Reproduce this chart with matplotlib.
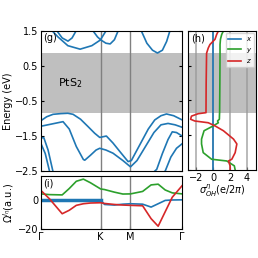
import matplotlib
matplotlib.use("Agg")
import matplotlib.pyplot as plt

# high-symmetry path (fraction of the total path length)
kpts = [0.0, 0.4226, 0.634, 1.0]
klabels = ["Γ", "K", "M", "Γ"]
gap_lo, gap_hi = -0.85, 0.86

# band structure (k, E)
bands = [
    ([0.06, 0.113, 0.15, 0.191, 0.22, 0.248, 0.30],
     [1.85, 1.5, 1.3, 1.21, 1.3, 1.5, 1.85]),
    ([0.05, 0.08, 0.12, 0.19, 0.277, 0.36, 0.42, 0.46, 0.49],
     [1.65, 1.5, 1.33, 1.08, 0.98, 1.08, 1.24, 1.5, 1.7]),
    ([0.34, 0.369, 0.40, 0.425, 0.46, 0.49, 0.52, 0.546, 0.57],
     [1.7, 1.5, 1.33, 1.24, 1.15, 1.13, 1.25, 1.5, 1.7]),
    ([0.68, 0.711, 0.75, 0.79, 0.825, 0.86, 0.89, 0.913, 0.94],
     [1.8, 1.5, 1.15, 0.95, 0.87, 0.95, 1.2, 1.5, 1.8]),
    ([0, 0.04, 0.085, 0.14, 0.19, 0.227, 0.28, 0.333, 0.38, 0.416, 0.44, 0.463,
      0.51, 0.56, 0.617, 0.64, 0.70, 0.76, 0.806, 0.85, 0.889, 0.94, 1.0],
     [-1.06, -0.95, -0.88, -0.86, -0.85, -0.88, -1.02, -1.23, -1.42, -1.54, -1.52, -1.5,
      -1.7, -1.95, -2.23, -2.2, -1.75, -1.3, -1.04, -0.92, -0.87, -0.92, -1.04]),
    ([0, 0.06, 0.12, 0.156, 0.2, 0.25, 0.3, 0.31, 0.35, 0.39, 0.416, 0.46, 0.51,
      0.58, 0.634, 0.68, 0.74, 0.8, 0.85, 0.9, 0.95, 1.0],
     [-1.22, -1.17, -1.12, -1.09, -1.3, -1.8, -2.17, -2.19, -2.05, -1.9, -1.85, -1.9, -1.99,
      -2.2, -2.38, -2.2, -1.8, -1.4, -1.18, -1.14, -1.18, -1.25]),
    ([0, 0.02, 0.05, 0.085, 0.11], [-1.55, -1.55, -1.9, -2.52, -2.9]),
    ([0.78, 0.82, 0.86, 0.9, 0.93, 0.96, 1.0], [-2.6, -2.45, -2.0, -1.6, -1.38, -1.4, -1.5]),
    ([0, 0.03, 0.06], [-1.72, -2.0, -2.5]),
    ([0.85, 0.88, 0.92, 0.96, 1.0], [-2.6, -2.5, -2.1, -1.85, -1.72]),
]

# Berry curvature
bk = [0, 0.06, 0.15, 0.2, 0.25, 0.3, 0.35, 0.4226, 0.45, 0.52, 0.58, 0.634,
      0.72, 0.78, 0.83, 0.88, 0.93, 1.0]
om_x = [0, 0, 0, 0, 0, 0, 0, 0, -3.0, -3.4, -2.8, -2.5, -2.8, -4.8, -2.5, -0.2, 0.1, 0.2]
om_y = [4.3, 3.8, 3.6, 8, 13, 14.5, 12, 7.7, 7.3, 5.5, 4.2, 4.3, 6, 10.5, 11, 7, 5, 4.3]
om_z = [6.6, 0.9, -9.4, -7, -3.6, -2.5, -2.0, -1.8, -2.3, -3.0, -3.4, -3.6,
        -3.9, -12.8, -18, -8, 2, 10]

# orbital Hall conductivity vs energy
sig_E = [1.5, 1.4, 1.26, 1.11, 1.01, 0.86, 0.0, -0.85, -0.88, -0.95, -1.04, -1.09,
         -1.14, -1.23, -1.37, -1.61, -1.75, -2.0, -2.19, -2.24, -2.38, -2.5]
sig_x = [0.0] * len(sig_E)
sig_y = [1.2, 1.0, 0.85, 0.8, 0.8, 0.8, 0.78, 0.75, 0.74, 0.73, 0.72, 0.5,
         0.6, 0.0, -1.1, -1.4, -1.4, -1.2, -0.2, 1.6, 2.5, 2.6]
sig_z = [0.6, 0.4, 0.2, -0.4, -0.6, -0.8, -0.85, -0.87, -1.8, -2.6, -2.7, -2.2,
         -0.6, 0.2, 1.2, 2.4, 2.8, 2.6, 2.2, 1.8, 2.0, 2.0]

blue, green, red = "#1f77b4", "#2ca02c", "#d62728"

plt.rcParams["font.size"] = 7
plt.rcParams["xtick.direction"] = "in"
plt.rcParams["ytick.direction"] = "in"

fig = plt.figure(figsize=(2.58, 2.58), dpi=100)
ax1 = fig.add_axes([0.159, 0.337, 0.547, 0.543])
ax2 = fig.add_axes([0.159, 0.112, 0.547, 0.205])
ax3 = fig.add_axes([0.729, 0.341, 0.264, 0.539])

# (g) bands
ax1.axhspan(gap_lo, gap_hi, color="0.75", lw=0)
for k in kpts[1:3]:
    ax1.axvline(k, color="0.5", lw=1)
for k, e in bands:
    ax1.plot(k, e, color=blue, lw=1.2)
ax1.set_xlim(0, 1)
ax1.set_ylim(-2.5, 1.5)
ax1.set_yticks([1.5, 0.5, -0.5, -1.5, -2.5])
ax1.set_xticks([])
ax1.tick_params(right=True, length=2, pad=2)
ax1.set_ylabel("Energy (eV)", labelpad=1)
ax1.text(0.015, 0.985, "(g)", transform=ax1.transAxes, va="top", ha="left")
ax1.text(0.12, 0.0, "PtS$_2$", fontsize=8, va="center", ha="left")

# (i) Berry curvature
for k in kpts[1:3]:
    ax2.axvline(k, color="0.5", lw=1)
ax2.plot(bk[:8], om_x[:8], color=blue, lw=2.5)
ax2.plot(bk, om_x, color=blue, lw=1.2)
ax2.plot(bk, om_y, color=green, lw=1.2)
ax2.plot(bk, om_z, color=red, lw=1.2)
ax2.set_xlim(0, 1)
ax2.set_ylim(-20, 16.5)
ax2.set_yticks([0, -20])
ax2.set_xticks(kpts)
ax2.set_xticklabels(klabels)
ax2.tick_params(length=2, pad=2)
ax2.set_ylabel(r"$\Omega^{l_\eta}$(a.u.)", labelpad=1)
ax2.text(0.015, 0.96, "(i)", transform=ax2.transAxes, va="top", ha="left")

# (h) orbital Hall conductivity
ax3.axhspan(gap_lo, gap_hi, color="0.75", lw=0)
for v in [-2, 0, 2, 4]:
    ax3.axvline(v, color="0.6", lw=1.2, alpha=0.8)
ax3.plot(sig_x, sig_E, color=blue, lw=1.2, label="$x$")
ax3.plot(sig_y, sig_E, color=green, lw=1.2, label="$y$")
ax3.plot(sig_z, sig_E, color=red, lw=1.2, label="$z$")
ax3.set_xlim(-3, 5.1)
ax3.set_ylim(-2.5, 1.5)
ax3.set_yticks([1.5, 0.5, -0.5, -1.5, -2.5])
ax3.set_yticklabels([])
ax3.set_xticks([-2, 0, 2, 4])
ax3.tick_params(length=2, pad=2)
ax3.set_xlabel(r"$\sigma^{\eta}_{OH}$(e/2$\pi$)", labelpad=0)
ax3.text(0.04, 0.985, "(h)", transform=ax3.transAxes, va="top", ha="left")
ax3.legend(loc="upper right", fontsize=5, handlelength=1.9, borderpad=0.35,
           labelspacing=0.35, handletextpad=0.6, borderaxespad=0.25)

fig.savefig("out.png", dpi=100)
